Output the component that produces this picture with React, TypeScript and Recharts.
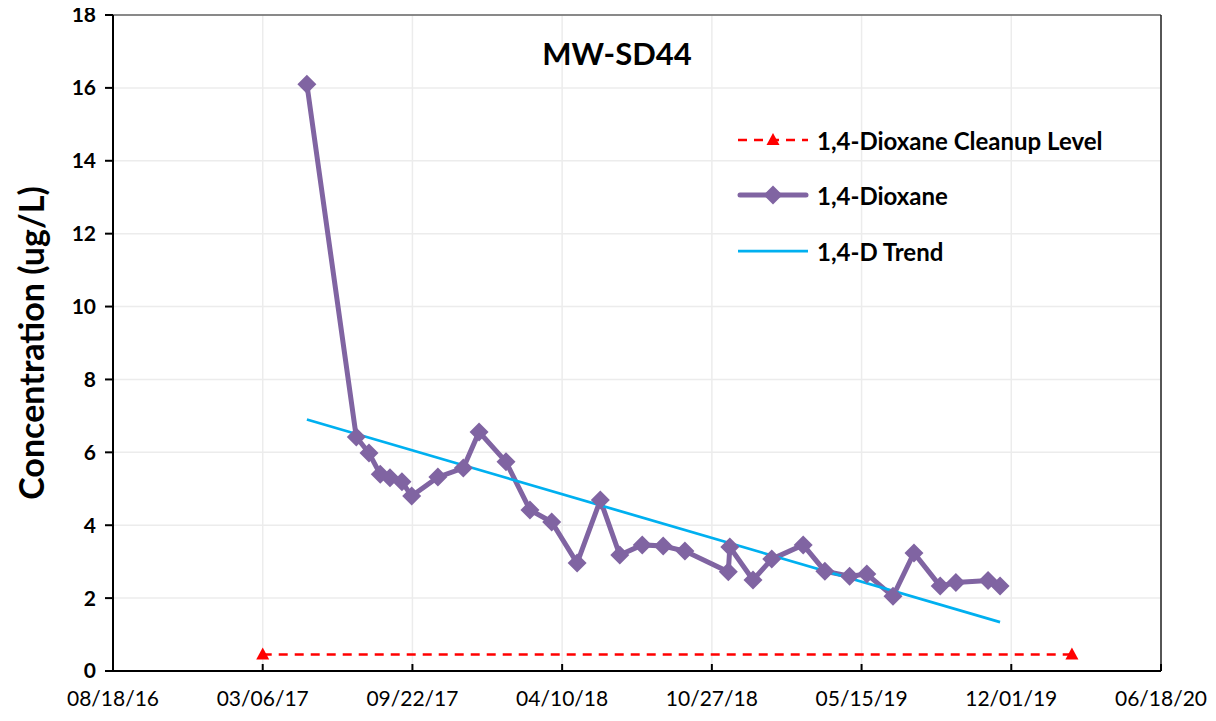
import { LineChart, Line, XAxis, YAxis, CartesianGrid, Legend, ReferenceLine, Label } from "recharts"

// sampling dates and 1,4-dioxane results (ug/L)
const sampleDates = [
  "2017-05-04", "2017-07-09", "2017-07-26", "2017-08-10", "2017-08-23", "2017-09-08",
  "2017-09-21", "2017-10-26", "2017-11-29", "2017-12-20", "2018-01-25", "2018-02-26",
  "2018-03-27", "2018-04-30", "2018-05-31", "2018-06-26", "2018-07-26", "2018-08-23",
  "2018-09-21", "2018-11-18", "2018-11-20", "2018-12-21", "2019-01-15", "2019-02-26",
  "2019-03-27", "2019-04-29", "2019-05-22", "2019-06-26", "2019-07-24", "2019-08-28",
  "2019-09-18", "2019-10-31", "2019-11-16",
]
const dioxane = [
  16.1, 6.42, 5.98, 5.4, 5.3, 5.19,
  4.8, 5.32, 5.57, 6.56, 5.74, 4.42,
  4.09, 2.96, 4.69, 3.18, 3.46, 3.43,
  3.29, 2.72, 3.4, 2.5, 3.07, 3.46,
  2.74, 2.6, 2.66, 2.05, 3.24, 2.33,
  2.43, 2.48, 2.33,
]

// linear trend endpoints
const trendDates = ["2017-05-04", "2019-11-16"]
const trendValues = [6.9, 1.34]

// cleanup level
const cleanupDates = ["2017-03-06", "2020-02-20"]
const cleanupValues = [0.45, 0.45]

const xTickDates = [
  "2016-08-18", "2017-03-06", "2017-09-22", "2018-04-10",
  "2018-10-27", "2019-05-15", "2019-12-01", "2020-06-18",
]
const xTickLabels = ["08/18/16", "03/06/17", "09/22/17", "04/10/18", "10/27/18", "05/15/19", "12/01/19", "06/18/20"]
const yTicks = [0, 2, 4, 6, 8, 10, 12, 14, 16, 18]

const legendNames = ["1,4-Dioxane Cleanup Level", "1,4-Dioxane", "1,4-D Trend"]

const PURPLE = "#8064A2"
const BLUE = "#00B0F0"
const RED = "#FF0000"
const FONT = "Lato, 'Open Sans', sans-serif"

const day = (s: string) => Date.parse(s) / 86400000

const dioxaneData = sampleDates.map((d, i) => ({ t: day(d), v: dioxane[i] }))
const trendData = trendDates.map((d, i) => ({ t: day(d), v: trendValues[i] }))
const cleanupData = cleanupDates.map((d, i) => ({ t: day(d), v: cleanupValues[i] }))
const xTicks = xTickDates.map(day)

const PLOT_BOTTOM = 671

const Diamond = (props: any) => {
  const { cx, cy, index } = props
  if (cx == null || cy == null) return null
  const r = 9.5
  return (
    <polygon
      key={`d-${index}`}
      points={`${cx},${cy - r} ${cx + r},${cy} ${cx},${cy + r} ${cx - r},${cy}`}
      fill={PURPLE}
    />
  )
}

const Triangle = (props: any) => {
  const { cx, cy, index } = props
  if (cx == null || cy == null) return null
  return (
    <polygon
      key={`t-${index}`}
      points={`${cx},${cy - 7} ${cx + 6.5},${cy + 5} ${cx - 6.5},${cy + 5}`}
      fill={RED}
    />
  )
}

const XTick = (props: any) => {
  const { x, payload } = props
  const i = xTicks.indexOf(payload.value)
  return (
    <g>
      <line x1={x} x2={x} y1={PLOT_BOTTOM} y2={PLOT_BOTTOM - 7} stroke="#000" strokeWidth={2} />
      <text x={x} y={PLOT_BOTTOM + 26} dominantBaseline="central" textAnchor="middle" fontSize={21} fontFamily={FONT} fill="#000">
        {i >= 0 ? xTickLabels[i] : ""}
      </text>
    </g>
  )
}

const YLabel = () => (
  <text
    x={30}
    y={343}
    transform="rotate(-90 30 343)"
    textAnchor="middle"
    dominantBaseline="central"
    fontSize={34}
    fontWeight={700}
    fontFamily={FONT}
    fill="#000"
  >
    Concentration (ug/L)
  </text>
)

const LegendBox = () => {
  const rowY = [22, 77, 133]
  return (
    <svg width={440} height={150} style={{ display: "block" }}>
      {/* cleanup level */}
      <line x1={2} x2={72} y1={rowY[0]} y2={rowY[0]} stroke={RED} strokeWidth={2.5} strokeDasharray="9 7" />
      <polygon points={`37,${rowY[0] - 7} 43.5,${rowY[0] + 5} 30.5,${rowY[0] + 5}`} fill={RED} />
      {/* dioxane */}
      <line x1={4} x2={70} y1={rowY[1]} y2={rowY[1]} stroke={PURPLE} strokeWidth={5} strokeLinecap="round" />
      <polygon points={`37,${rowY[1] - 9.5} 46.5,${rowY[1]} 37,${rowY[1] + 9.5} 27.5,${rowY[1]}`} fill={PURPLE} />
      {/* trend */}
      <line x1={2} x2={72} y1={rowY[2]} y2={rowY[2]} stroke={BLUE} strokeWidth={2.75} />
      {legendNames.map((n, i) => (
        <text
          key={n}
          x={81}
          y={rowY[i]}
          dominantBaseline="central"
          fontSize={24}
          fontWeight={700}
          fontFamily={FONT}
          fill="#000"
        >
          {n}
        </text>
      ))}
    </svg>
  )
}

export default function App() {
  return (
    <div style={{ position: "relative", width: 1216, height: 721, margin: -8, background: "#fff" }}>
      <LineChart width={1216} height={721} margin={{ top: 15, right: 55, bottom: 4, left: 0 }}>
        <CartesianGrid stroke="#ececec" strokeWidth={1.5} />
        <XAxis
          type="number"
          dataKey="t"
          domain={[xTicks[0], xTicks[xTicks.length - 1]]}
          ticks={xTicks}
          interval={0}
          height={46}
          tickLine={false}
          tickSize={0}
          tickMargin={15}
          tick={<XTick />}
          axisLine={{ stroke: "#000", strokeWidth: 2 }}
        />
        <YAxis
          type="number"
          dataKey="v"
          domain={[0, 18]}
          ticks={yTicks}
          interval={0}
          width={113}
          tickSize={8}
          tickMargin={9}
          tickLine={{ stroke: "#000", strokeWidth: 2 }}
          axisLine={{ stroke: "#000", strokeWidth: 2 }}
          tick={{ fontSize: 21, fontWeight: 700, fontFamily: FONT, fill: "#000" }}
        >
          <Label content={<YLabel />} />
        </YAxis>
        <ReferenceLine y={18} stroke="#666" strokeWidth={1.5} />
        <ReferenceLine x={xTicks[xTicks.length - 1]} stroke="#222" strokeWidth={1.5} />
        <Legend
          layout="vertical"
          align="center"
          verticalAlign="middle"
          content={<LegendBox />}
          wrapperStyle={{ left: 736, top: 118, width: 440 }}
        />
        <Line
          data={cleanupData}
          dataKey="v"
          name={legendNames[0]}
          stroke={RED}
          strokeWidth={2.5}
          strokeDasharray="9 7"
          dot={<Triangle />}
          activeDot={false}
          isAnimationActive={false}
        />
        <Line
          data={dioxaneData}
          dataKey="v"
          name={legendNames[1]}
          stroke={PURPLE}
          strokeWidth={5}
          dot={<Diamond />}
          activeDot={false}
          isAnimationActive={false}
        />
        <Line
          data={trendData}
          dataKey="v"
          name={legendNames[2]}
          stroke={BLUE}
          strokeWidth={2.75}
          dot={false}
          activeDot={false}
          isAnimationActive={false}
        />
      </LineChart>
      <div
        style={{
          position: "absolute",
          left: 617,
          top: 34,
          transform: "translateX(-50%)",
          fontFamily: FONT,
          fontWeight: 700,
          fontSize: 31,
          color: "#000",
          whiteSpace: "nowrap",
        }}
      >
        MW-SD44
      </div>
    </div>
  )
}
